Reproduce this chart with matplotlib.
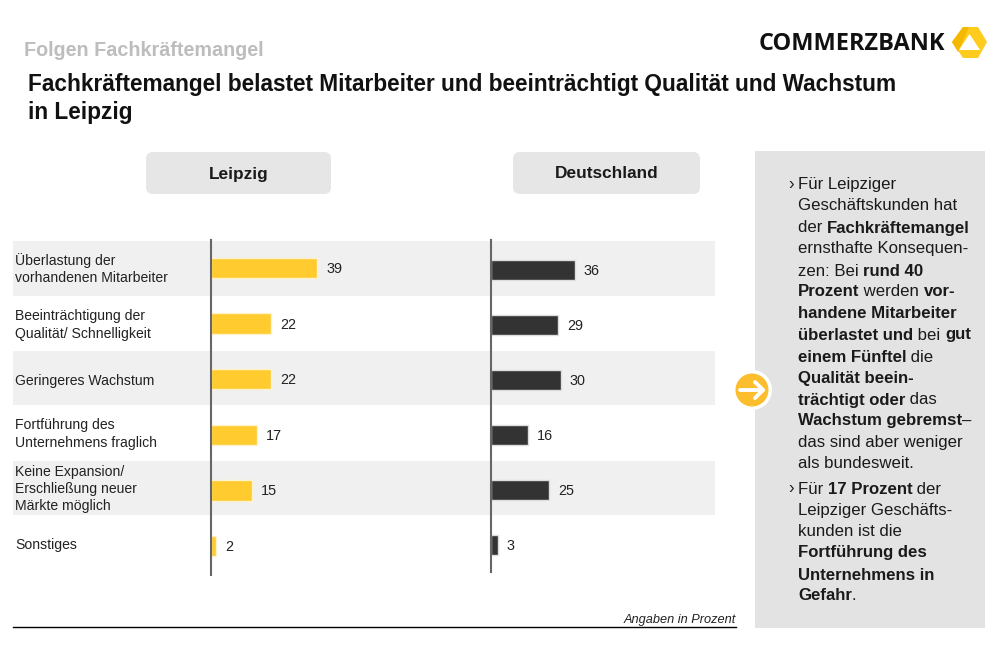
import matplotlib
matplotlib.use('Agg')
import matplotlib.pyplot as plt
from matplotlib.patches import FancyBboxPatch, Rectangle, Polygon, Circle

plt.rcParams['font.family'] = ['Liberation Sans', 'DejaVu Sans']

# ---- data ----
categories = [
    'Überlastung der\nvorhandenen Mitarbeiter',
    'Beeinträchtigung der\nQualität/ Schnelligkeit',
    'Geringeres Wachstum',
    'Fortführung des\nUnternehmens fraglich',
    'Keine Expansion/\nErschließung neuer\nMärkte möglich',
    'Sonstiges',
]
leipzig = [39, 22, 22, 17, 15, 2]
deutschland = [36, 29, 30, 16, 25, 3]

supertitle = 'Folgen Fachkräftemangel'
title_lines = ['Fachkräftemangel belastet Mitarbeiter und beeinträchtigt Qualität und Wachstum',
               'in Leipzig']

# each line is a list of (text, bold) runs, first flag marks a bullet
panel_lines = [
    (True, [('Für Leipziger', False)]),
    (False, [('Geschäftskunden hat', False)]),
    (False, [('der ', False), ('Fachkräftemangel', True)]),
    (False, [('ernsthafte Konsequen-', False)]),
    (False, [('zen: Bei ', False), ('rund 40', True)]),
    (False, [('Prozent', True), (' werden ', False), ('vor-', True)]),
    (False, [('handene Mitarbeiter', True)]),
    (False, [('überlastet und', True), (' bei ', False), ('gut', True)]),
    (False, [('einem Fünftel', True), (' die', False)]),
    (False, [('Qualität beein-', True)]),
    (False, [('trächtigt oder', True), (' das', False)]),
    (False, [('Wachstum gebremst', True), ('–', False)]),
    (False, [('das sind aber weniger', False)]),
    (False, [('als bundesweit.', False)]),
    (True, [('Für ', False), ('17 Prozent', True), (' der', False)]),
    (False, [('Leipziger Geschäfts-', False)]),
    (False, [('kunden ist die', False)]),
    (False, [('Fortführung des', True)]),
    (False, [('Unternehmens in', True)]),
    (False, [('Gefahr', True), ('.', False)]),
]
panel_y = [185, 206, 228, 249, 271, 292, 314, 335, 357, 378, 400, 421, 442, 464,
           489, 511, 532, 553, 575, 596]

YELLOW = '#FFCB2F'
DARK = '#333333'
BAND = '#F0F0F0'
PANEL = '#E3E3E3'
W, H = 1000, 667
PANEL_SIZE = 12.1


def px_axes(fig, x0, y0, x1, y1, **kw):
    # axes placed by pixel box, y measured from the top
    return fig.add_axes([x0 / W, 1 - y1 / H, (x1 - x0) / W, (y1 - y0) / H], **kw)


def draw_bars(ax, values, color, xmax, ylim):
    ax.barh(range(len(values)), values, height=0.37, color=color,
            edgecolor='#FFF3CC' if color == YELLOW else '#DDDDDD', linewidth=1)
    for i, v in enumerate(values):
        ax.annotate(str(v), (v, i), xytext=(6.5, -0.7), textcoords='offset points',
                    va='center', ha='left', fontsize=10.4, color='#222222')
    ax.set_xlim(0, xmax)
    ax.set_ylim(*ylim)
    ax.set_xticks([])
    ax.set_yticks([])
    ax.patch.set_alpha(0)
    for s in ['top', 'right', 'bottom']:
        ax.spines[s].set_visible(False)
    ax.spines['left'].set_color('#666666')
    ax.spines['left'].set_linewidth(1.5)


fig = plt.figure(figsize=(10, 6.67), dpi=100)

# background layer in pixel coordinates
bg = fig.add_axes([0, 0, 1, 1])
bg.set_xlim(0, W)
bg.set_ylim(H, 0)
bg.axis('off')

for top, bottom in [(241, 296), (351, 405), (461, 515)]:
    bg.add_patch(Rectangle((13, top), 702, bottom - top, color=BAND, lw=0))

bg.add_patch(Rectangle((755, 151), 230, 477, color=PANEL, lw=0))

for x0, x1, label in [(146, 331, 'Leipzig'), (513, 700, 'Deutschland')]:
    bg.add_patch(FancyBboxPatch((x0, 152), x1 - x0, 42,
                                boxstyle='round,pad=0,rounding_size=7',
                                fc='#E6E6E6', ec='none'))
    bg.text((x0 + x1) / 2, 174, label, ha='center', va='center',
            fontsize=12.4, fontweight='bold', color='#1A1A1A')

# header
bg.text(24, 51, supertitle, fontsize=14.2, fontweight='bold', color='#BDBDBD', va='center')
bg.text(28, 84, title_lines[0], fontsize=16.25, fontweight='bold', color='#111111', va='center')
bg.text(28, 112, title_lines[1], fontsize=16.25, fontweight='bold', color='#111111', va='center')

# logo
bg.text(759, 44, 'COMMERZBANK', fontsize=16.9, fontweight='bold', family='Open Sans',
        color='#111111', va='center')
bg.add_patch(Polygon([(963, 27), (978, 27), (987, 42), (978, 58), (963, 58), (952, 42)],
                     closed=True, fc='#FFCC1E', ec='none'))
bg.add_patch(Polygon([(952, 42), (963, 27), (969, 27), (959, 50), (958, 52)],
                     closed=True, fc='#F5B800', ec='none'))
bg.add_patch(Polygon([(969.5, 34), (980, 50), (959, 50)], closed=True, fc='white', ec='none'))

# row labels
for i, label in enumerate(categories):
    y = [269, 325, 381, 434, 489, 545][i]
    bg.text(15, y, label, fontsize=10.1, color='#222222', va='center', linespacing=1.3)

# footer
bg.text(736, 620, 'Angaben in Prozent', fontsize=9.15, style='italic', color='#222222',
        ha='right', va='center')
bg.plot([13, 736], [627, 627], color='black', lw=1)

# bars
ax_l = px_axes(fig, 211, 240, 441, 575)
draw_bars(ax_l, leipzig, YELLOW, 230 / 2.72, (5 + 29 / 55.6, -28 / 55.6))
ax_d = px_axes(fig, 491, 240, 715, 572)
draw_bars(ax_d, deutschland, DARK, 224 / 2.32, (5 + 27 / 55, -30 / 55))

# arrow badge
fg = fig.add_axes([0, 0, 1, 1])
fg.set_xlim(0, W)
fg.set_ylim(H, 0)
fg.axis('off')
fg.add_patch(Circle((752, 390), 20, fc='white', ec='none'))
fg.add_patch(Circle((752, 390), 16.5, fc='#FDBE2D', ec='none'))
fg.plot([740, 763], [390, 390], color='white', lw=2.8, solid_capstyle='round')
fg.plot([755, 763, 755], [382, 390, 398], color='white', lw=2.8,
        solid_capstyle='round', solid_joinstyle='round')

# panel text, runs placed one after another
fig.canvas.draw()
renderer = fig.canvas.get_renderer()
for (bullet, runs), y in zip(panel_lines, panel_y):
    if bullet:
        fg.text(788, y, '›', fontsize=PANEL_SIZE, color='#222222', va='center')
    x = 798
    for txt, bold in runs:
        weight = 'bold' if bold else 'normal'
        fg.text(x, y, txt, fontsize=PANEL_SIZE, color='#1A1A1A', va='center', fontweight=weight)
        # plain spaces at the ends are not measured, so measure with nbsp
        probe = fg.text(0, 0, txt.replace(' ', '\u00a0'), fontsize=PANEL_SIZE, fontweight=weight)
        x += probe.get_window_extent(renderer).width
        probe.remove()

fig.savefig('out.png', dpi=100)
